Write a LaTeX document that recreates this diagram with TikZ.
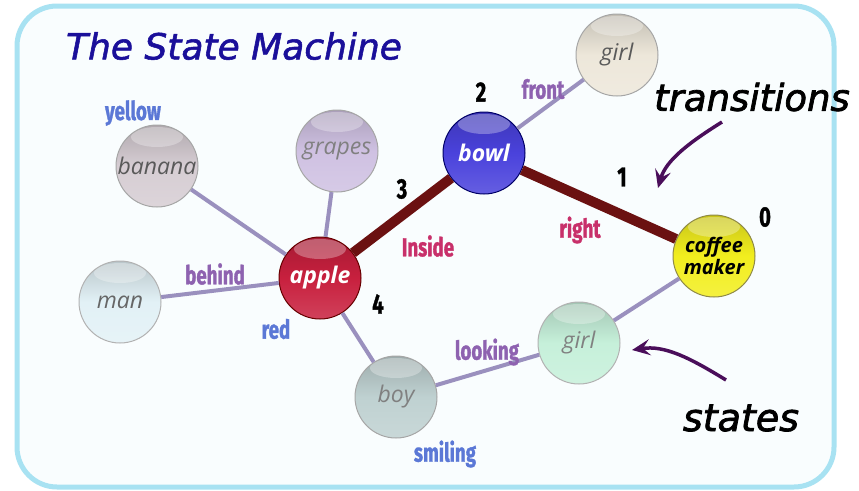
\documentclass[tikz,border=0pt]{standalone}
\usepackage{fontspec}
\setmainfont{Open Sans}
\newfontfamily\nodefont{Open Sans}
\newfontfamily\hand[FakeStretch=0.72,FakeBold=1.2]{Fira Sans}
\newfontfamily\comic[FakeBold=2]{DejaVu Sans}
\newfontfamily\comict[FakeBold=1.5]{DejaVu Sans}
\usetikzlibrary{arrows.meta}
\definecolor{frame}{HTML}{A8E2F2}
\definecolor{bgin}{HTML}{F9FDFE}
\definecolor{thin}{HTML}{9A90BE}
\definecolor{thick}{HTML}{6B1111}
\definecolor{lblue}{HTML}{5B78D6}
\definecolor{lpurple}{HTML}{8E62B0}
\definecolor{lpink}{HTML}{C8306A}
\definecolor{arr}{HTML}{4A0E5A}
\definecolor{titlec}{HTML}{1A0F9A}
\definecolor{cbanana}{HTML}{D6CDD3}
\definecolor{cgrapes}{HTML}{CFC1E2}
\definecolor{cgirlt}{HTML}{EDE7DA}
\definecolor{cbowl}{HTML}{4A42DC}
\definecolor{ccoffee}{HTML}{F2EE1E}
\definecolor{capple}{HTML}{C8203E}
\definecolor{cman}{HTML}{E2F1F6}
\definecolor{cboy}{HTML}{BFD1D1}
\definecolor{cgirlb}{HTML}{C6F0DA}
\tikzset{
  ball/.style n args={2}{circle, minimum size=82pt, inner sep=0pt, draw=#2, line width=1pt,
    top color=#1!82!black, bottom color=#1!85!white, middle color=#1,
    path picture={\fill[white,opacity=.3] ([yshift=-12pt]path picture bounding box.north) ellipse (26pt and 10pt);},
    font=\nodefont\itshape\fontsize{23}{26}\selectfont},
  thinedge/.style={draw=thin, line width=4pt},
  thickedge/.style={draw=thick, line width=10pt},
  lbl/.style={font=\hand\bfseries\fontsize{26}{28}\selectfont},
  num/.style={font=\hand\bfseries\fontsize{28}{30}\selectfont, text=black},
  note/.style={font=\comic\itshape\fontsize{37}{40}\selectfont, text=black},
  pointer/.style={draw=arr, line width=3.5pt, -{Stealth[length=18pt,width=16pt,inset=7pt]}}
}
\begin{document}
\begin{tikzpicture}[x=1pt,y=-1pt]
\fill[white] (0,0) rectangle (859,490);
\useasboundingbox (0,0) rectangle (859,490);
\draw[frame, line width=5pt, fill=bgin, rounded corners=40pt] (17,6) rectangle (834,487);

% nodes
\node[ball={cbanana}{gray!70}, text=black!65] (banana) at (157,166) {banana};
\node[ball={cgrapes}{gray!70}, text=gray] (grapes) at (337,151) {grapes};
\node[ball={cgirlt}{gray!70}, text=black!65] (girlt) at (617,55) {girl};
\node[ball={cbowl}{blue!40!black}, text=white, font=\nodefont\itshape\bfseries\fontsize{23}{26}\selectfont] (bowl) at (484,153) {bowl};
\node[ball={ccoffee}{yellow!50!black}, text=black, align=center, font=\nodefont\itshape\bfseries\fontsize{20}{22}\selectfont] (coffee) at (714,256) {coffee\\maker};
\node[ball={capple}{red!40!black}, text=white, font=\nodefont\itshape\bfseries\fontsize{23}{26}\selectfont] (apple) at (320,278) {apple};
\node[ball={cman}{gray!60}, text=black!60] (man) at (120,302) {man};
\node[ball={cboy}{gray!70}, text=gray] (boy) at (396,397) {boy};
\node[ball={cgirlb}{gray!60}, text=gray] (girlb) at (579,343) {girl};

% edges
\draw[thinedge] (banana) -- (apple);
\draw[thinedge] (grapes) -- (apple);
\draw[thinedge] (man) -- (apple);
\draw[thinedge] (apple) -- (boy);
\draw[thinedge] (boy) -- (girlb);
\draw[thinedge] (girlb) -- (coffee);
\draw[thinedge] (bowl) -- (girlt);
\draw[thickedge] (apple) -- (bowl);
\draw[thickedge] (bowl) -- (coffee);

% labels
\node[lbl, text=lblue] (lyellow) at (133,113) {yellow};
\node[lbl, text=lpurple] (lbehind) at (215,274) {behind};
\node[lbl, text=lblue] (lred) at (276,329) {red};
\node[lbl, text=lpink] (linside) at (428,246) {Inside};
\node[lbl, text=lpurple] (lfront) at (543,89) {front};
\node[lbl, text=lpink] (lright) at (580,230) {right};
\node[lbl, text=lpurple] (llooking) at (487,352) {looking};
\node[lbl, text=lblue] (lsmiling) at (445,454) {smiling};
\node[num] (n3) at (402,189) {3};
\node[num] (n2) at (481,92) {2};
\node[num] (n1) at (622,177) {1};
\node[num] (n0) at (765,217) {0};
\node[num] (n4) at (378,304) {4};

% title and notes
\node[font=\comict\itshape\fontsize{36}{40}\selectfont, text=titlec] (title) at (234,46) {The State Machine};
\node[note] (ntrans) at (752,97) {transitions};
\node[note, font=\comic\itshape\fontsize{38}{42}\selectfont] (nstates) at (741,418) {states};
\coordinate (tA) at (722,122);
\coordinate (tB) at (658,188);
\coordinate (sA) at (726,380);
\coordinate (sB) at (632,350);
\draw[pointer] (tA) .. controls (690,142) and (666,160) .. (tB);
\draw[pointer] (sA) .. controls (690,358) and (665,345) .. (sB);
\end{tikzpicture}
\end{document}
